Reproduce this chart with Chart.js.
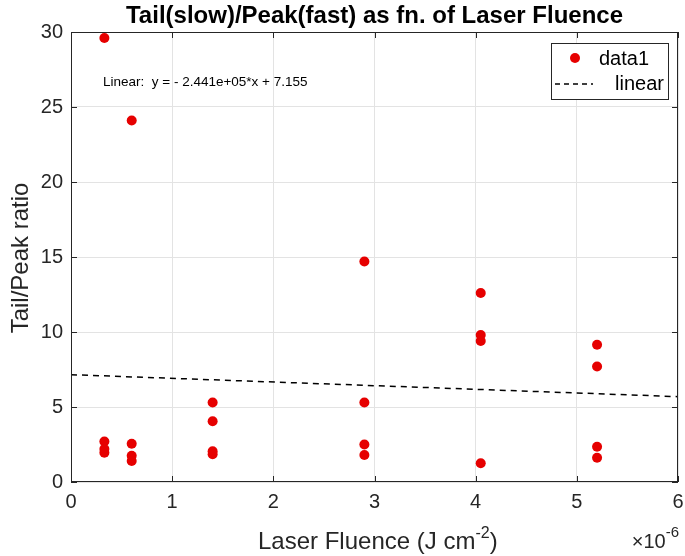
<!DOCTYPE html>
<html>
<head>
<meta charset="utf-8">
<script src="https://cdn.jsdelivr.net/npm/chart.js@4.4.1/dist/chart.umd.min.js"></script>
<style>
  html, body { margin: 0; padding: 0; background: #fff; }
  #wrap { width: 685px; height: 556px; position: relative; }
</style>
</head>
<body>
<div id="wrap"><canvas id="chart" width="685" height="556"></canvas></div>
<script>
// fluence in units of 1e-6 J cm^-2
const fluence = [
  0.33, 0.33, 0.33, 0.33,
  0.6, 0.6, 0.6, 0.6,
  1.4, 1.4, 1.4, 1.4,
  2.9, 2.9, 2.9, 2.9,
  4.05, 4.05, 4.05, 4.05,
  5.2, 5.2, 5.2, 5.2,
];
const ratio = [
  29.6, 2.7, 2.2, 1.95,
  24.1, 2.55, 1.75, 1.4,
  5.3, 4.05, 2.05, 1.85,
  14.7, 5.3, 2.5, 1.8,
  12.6, 9.8, 9.4, 1.25,
  9.15, 7.7, 2.35, 1.62,
];
const fitSlope = -0.2441; // -2.441e+05 per (J cm^-2), x in 1e-6 units
const fitIntercept = 7.155;
const fitX = [0, 6];
const xTicks = [0, 1, 2, 3, 4, 5, 6];
const yTicks = [0, 5, 10, 15, 20, 25, 30];

const TEXT = "#262626";
const FONT = "'Liberation Sans', Arial, sans-serif";

const scatterData = fluence.map((x, i) => ({ x: x, y: ratio[i] }));
const fitData = fitX.map((x) => ({ x: x, y: fitSlope * x + fitIntercept }));

const decorations = {
  id: "decorations",
  afterDraw(chart) {
    const ctx = chart.ctx;
    const a = chart.chartArea;
    const xs = chart.scales.x;
    const ys = chart.scales.y;
    ctx.save();

    // box + inward ticks
    ctx.strokeStyle = TEXT;
    ctx.lineWidth = 1;
    ctx.strokeRect(a.left + 0.5, a.top + 0.5, a.right - a.left - 1, a.bottom - a.top - 1);
    ctx.beginPath();
    xTicks.forEach((t) => {
      const px = Math.round(xs.getPixelForValue(t)) + 0.5;
      ctx.moveTo(px, a.bottom); ctx.lineTo(px, a.bottom - 6);
      ctx.moveTo(px, a.top); ctx.lineTo(px, a.top + 6);
    });
    yTicks.forEach((t) => {
      const py = Math.round(ys.getPixelForValue(t)) + 0.5;
      ctx.moveTo(a.left, py); ctx.lineTo(a.left + 6, py);
      ctx.moveTo(a.right, py); ctx.lineTo(a.right - 6, py);
    });
    ctx.stroke();

    ctx.fillStyle = "#000";
    // title
    ctx.font = "bold 24px " + FONT;
    ctx.textAlign = "center";
    ctx.textBaseline = "middle";
    ctx.fillText("Tail(slow)/Peak(fast) as fn. of Laser Fluence", (a.left + a.right) / 2, 16);

    // fit annotation
    ctx.font = "13.5px " + FONT;
    ctx.textAlign = "left";
    ctx.textBaseline = "alphabetic";
    ctx.fillText("Linear:  y = - 2.441e+05*x + 7.155", 103, 86);

    // x axis title with superscript
    ctx.fillStyle = TEXT;
    const base = 549;
    ctx.font = "24px " + FONT;
    const p1 = "Laser Fluence (J cm";
    const p2 = "-2";
    const p3 = ")";
    const w1 = ctx.measureText(p1).width;
    ctx.font = "16px " + FONT;
    const w2 = ctx.measureText(p2).width;
    const sx = 258;
    ctx.font = "24px " + FONT;
    ctx.fillText(p1, sx, base);
    ctx.font = "16px " + FONT;
    ctx.fillText(p2, sx + w1, base - 11);
    ctx.font = "24px " + FONT;
    ctx.fillText(p3, sx + w1 + w2, base);

    // exponent label
    ctx.font = "20px " + FONT;
    const e1 = "\u00d710";
    const we1 = ctx.measureText(e1).width;
    ctx.font = "15px " + FONT;
    const we2 = ctx.measureText("-6").width;
    const ex = a.right - we1 - we2 + 1;
    ctx.font = "20px " + FONT;
    ctx.fillText(e1, ex, 548);
    ctx.font = "15px " + FONT;
    ctx.fillText("-6", ex + we1, 537);

    // y axis title
    ctx.save();
    ctx.translate(21, 258);
    ctx.rotate(-Math.PI / 2);
    ctx.font = "24px " + FONT;
    ctx.textAlign = "center";
    ctx.textBaseline = "middle";
    ctx.fillText("Tail/Peak ratio", 0, 0);
    ctx.restore();

    // legend
    const lx = 551, ly = 43, lw = 117, lh = 56;
    ctx.fillStyle = "#fff";
    ctx.fillRect(lx, ly, lw, lh);
    ctx.strokeStyle = "#262626";
    ctx.lineWidth = 1;
    ctx.strokeRect(lx + 0.5, ly + 0.5, lw, lh);
    ctx.fillStyle = "#e60000";
    ctx.beginPath();
    ctx.arc(575, 58, 5, 0, Math.PI * 2);
    ctx.fill();
    ctx.strokeStyle = "#000";
    ctx.lineWidth = 1.5;
    ctx.setLineDash([5, 4]);
    ctx.beginPath();
    ctx.moveTo(555, 84); ctx.lineTo(593, 84);
    ctx.stroke();
    ctx.setLineDash([]);
    ctx.fillStyle = "#000";
    ctx.font = "20px " + FONT;
    ctx.textAlign = "left";
    ctx.textBaseline = "middle";
    ctx.fillText("data1", 599, 59);
    ctx.textAlign = "right";
    ctx.fillText("linear", 664, 84);

    ctx.restore();
  },
};

new Chart(document.getElementById("chart"), {
  type: "scatter",
  data: {
    datasets: [
      {
        label: "linear",
        type: "line",
        data: fitData,
        borderColor: "#000",
        borderWidth: 1.5,
        borderDash: [6, 5],
        pointRadius: 0,
        fill: false,
        order: 1,
      },
      {
        label: "data1",
        data: scatterData,
        backgroundColor: "#e60000",
        borderColor: "#e60000",
        pointRadius: 5,
        borderWidth: 0,
        order: 0,
      },
    ],
  },
  options: {
    responsive: false,
    animation: false,
    devicePixelRatio: 1,
    layout: { padding: { top: 32, right: 7, left: 0, bottom: 0 } },
    plugins: {
      legend: { display: false },
      tooltip: { enabled: false },
      title: { display: false },
    },
    scales: {
      x: {
        type: "linear",
        min: 0,
        max: 6,
        afterFit: (s) => { s.height = 74; s.paddingLeft = 0; s.paddingRight = 0; },
        afterBuildTicks: (s) => { s.ticks = xTicks.map((v) => ({ value: v })); },
        grid: { color: "#e3e3e3", drawTicks: false },
        border: { display: false },
        ticks: { color: TEXT, font: { family: FONT, size: 20 }, padding: 8 },
      },
      y: {
        type: "linear",
        min: 0,
        max: 30,
        afterFit: (s) => { s.width = 71; },
        afterBuildTicks: (s) => { s.ticks = yTicks.map((v) => ({ value: v })); },
        grid: { color: "#e3e3e3", drawTicks: false },
        border: { display: false },
        ticks: { color: TEXT, font: { family: FONT, size: 20 }, padding: 8 },
      },
    },
  },
  plugins: [decorations],
});
</script>
</body>
</html>
